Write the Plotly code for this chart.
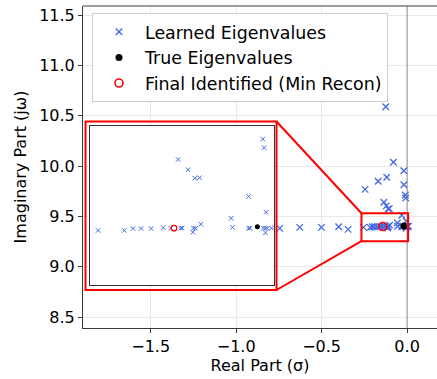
import plotly.graph_objects as go

# ---------------- data ----------------
learned_real = [-0.125, -0.080, -0.019, -0.169, -0.119, -0.246, -0.019,
                -0.745, -0.628, -0.501, -0.400, -0.345,
                -0.255, -0.216, -0.203, -0.191, -0.176, -0.158, -0.147, -0.132, -0.130,
                -0.113, -0.110, -0.114, -0.102, -0.136, -0.121, -0.111, -0.104,
                -0.057, -0.055, -0.031, -0.031, -0.029, -0.010, -0.008, -0.005,
                -0.009, -0.006, -0.003, 0.003, -0.006, 0.008]
learned_imag = [10.59, 10.04, 9.955, 9.85, 9.89, 9.77, 9.815,
                9.382, 9.392, 9.392, 9.398, 9.372,
                9.392, 9.392, 9.399, 9.399, 9.399, 9.402, 9.400, 9.400, 9.401,
                9.400, 9.400, 9.386, 9.414, 9.642, 9.606, 9.576, 9.578,
                9.435, 9.403, 9.512, 9.400, 9.400, 9.714, 9.684, 9.456,
                9.400, 9.400, 9.400, 9.400, 9.384, 9.403]
true_real = [-0.018]
true_imag = [9.405]
final_real = [-0.142]
final_imag = [9.400]

x_ticks = [-1.5, -1.0, -0.5, 0.0]
y_ticks = [8.5, 9.0, 9.5, 10.0, 10.5, 11.0, 11.5]

# ---------------- layout constants ----------------
W, H = 437, 379
ML, MR, MT, MB = 83, 0, 6, 51
PW, PH = W - ML - MR, H - MT - MB
XR = [-1.896, 0.175]
YR = [8.392, 11.592]
ZOOM_X = [-0.267, 0.006]
ZOOM_Y = [9.255, 9.532]
INSET_XR = [-0.267, 0.006]
INSET_YR = [9.20, 9.76]

def px_x(p):  # pixel -> paper
    return (p - ML) / PW

def px_y(p):
    return (H - MB - p) / PH

def dx(v):  # data -> paper
    return (v - XR[0]) / (XR[1] - XR[0])

def dy(v):
    return (v - YR[0]) / (YR[1] - YR[0])

BLUE = "#4169E1"
FONT = "DejaVu Sans"

fig = go.Figure()

# main traces
fig.add_trace(go.Scatter(x=learned_real, y=learned_imag, mode="markers",
                         name="Learned Eigenvalues", legendgroup="a",
                         marker=dict(symbol="x-thin", size=6.5, color=BLUE,
                                     line=dict(color=BLUE, width=1.3))))
fig.add_trace(go.Scatter(x=true_real, y=true_imag, mode="markers",
                         name="True Eigenvalues", legendgroup="b",
                         marker=dict(symbol="circle", size=7, color="black")))
fig.add_trace(go.Scatter(x=final_real, y=final_imag, mode="markers",
                         name="Final Identified (Min Recon)", legendgroup="c",
                         marker=dict(symbol="circle-open", size=8, color="red",
                                     line=dict(color="red", width=1.6))))

# inset traces
fig.add_trace(go.Scatter(x=learned_real, y=learned_imag, mode="markers",
                         xaxis="x2", yaxis="y2", showlegend=False,
                         marker=dict(symbol="x-thin", size=4.5, color=BLUE,
                                     line=dict(color=BLUE, width=1))))
fig.add_trace(go.Scatter(x=true_real, y=true_imag, mode="markers",
                         xaxis="x2", yaxis="y2", showlegend=False,
                         marker=dict(symbol="circle", size=5, color="black")))
fig.add_trace(go.Scatter(x=final_real, y=final_imag, mode="markers",
                         xaxis="x2", yaxis="y2", showlegend=False,
                         marker=dict(symbol="circle-open", size=5.5, color="red",
                                     line=dict(color="red", width=1.2))))

SPINE = "#3a3a3a"
GRID = "#e8e8e8"

inset_x0, inset_x1 = px_x(90), px_x(273.5)
inset_y0, inset_y1 = px_y(285), px_y(126)

fig.update_layout(
    width=W, height=H,
    margin=dict(l=ML, r=MR, t=MT, b=MB, autoexpand=False),
    paper_bgcolor="white", plot_bgcolor="white",
    font=dict(family=FONT, size=16, color="black"),
    xaxis=dict(range=XR, domain=[0, 1], tickvals=x_ticks, tickformat=".1f",
               automargin=False,
               showgrid=True, gridcolor=GRID, gridwidth=1, zeroline=False,
               showline=True, linecolor=SPINE, linewidth=1, mirror=False,
               ticks="outside", ticklen=4, tickcolor=SPINE,
               title=dict(text="Real Part (σ)", font=dict(size=16), standoff=3)),
    yaxis=dict(range=YR, domain=[0, 1], tickvals=y_ticks, tickformat=".1f",
               automargin=False,
               showgrid=True, gridcolor=GRID, gridwidth=1, zeroline=False,
               showline=True, linecolor=SPINE, linewidth=1,
               ticks="outside", ticklen=4, tickcolor=SPINE,
               title=dict(text="Imaginary Part (jω)", font=dict(size=16), standoff=8)),
    xaxis2=dict(range=INSET_XR, domain=[inset_x0, inset_x1], anchor="y2",
                showgrid=False, zeroline=False, showticklabels=False, ticks="",
                showline=True, mirror=True, linecolor="#333", linewidth=1.4),
    yaxis2=dict(range=INSET_YR, domain=[inset_y0, inset_y1], anchor="x2",
                showgrid=False, zeroline=False, showticklabels=False, ticks="",
                showline=True, mirror=True, linecolor="#333", linewidth=1.4),
    legend=dict(x=px_x(92), y=px_y(13), xanchor="left", yanchor="top",
                bgcolor="rgba(255,255,255,0.85)", bordercolor="#cccccc", borderwidth=1,
                font=dict(size=17.4), tracegroupgap=0, itemwidth=42),
    showlegend=True,
)

shapes = []
# top spine
shapes.append(dict(type="line", xref="paper", yref="paper", x0=0, x1=1, y0=1, y1=1,
                   line=dict(color=SPINE, width=1), layer="above"))
# axvline at 0
shapes.append(dict(type="line", xref="x", yref="paper", x0=0, x1=0, y0=0, y1=1,
                   line=dict(color="rgba(128,128,128,0.7)", width=1.2), layer="above"))
# white background for inset
shapes.append(dict(type="rect", xref="x2 domain", yref="y2 domain", x0=0, x1=1, y0=0, y1=1,
                   fillcolor="white", line=dict(width=0), layer="below"))
# red box around inset
bx0, bx1, by0, by1 = px_x(85.5), px_x(276.5), px_y(290), px_y(121.5)
shapes.append(dict(type="rect", xref="paper", yref="paper", x0=bx0, x1=bx1, y0=by0, y1=by1,
                   line=dict(color="red", width=2), layer="above"))
# zoom rectangle on main axes
shapes.append(dict(type="rect", xref="x", yref="y", x0=ZOOM_X[0], x1=ZOOM_X[1],
                   y0=ZOOM_Y[0], y1=ZOOM_Y[1], line=dict(color="red", width=2), layer="above"))
# connector lines
shapes.append(dict(type="line", xref="paper", yref="paper", x0=bx1, y0=by1,
                   x1=dx(ZOOM_X[0]), y1=dy(ZOOM_Y[1]), line=dict(color="red", width=2), layer="above"))
shapes.append(dict(type="line", xref="paper", yref="paper", x0=bx1, y0=by0,
                   x1=dx(ZOOM_X[0]), y1=dy(ZOOM_Y[0]), line=dict(color="red", width=2), layer="above"))
fig.update_layout(shapes=shapes)

fig.write_html("out.html",
               config={"displayModeBar": False},
               post_script="document.body.style.margin='0';document.body.style.padding='0';")
